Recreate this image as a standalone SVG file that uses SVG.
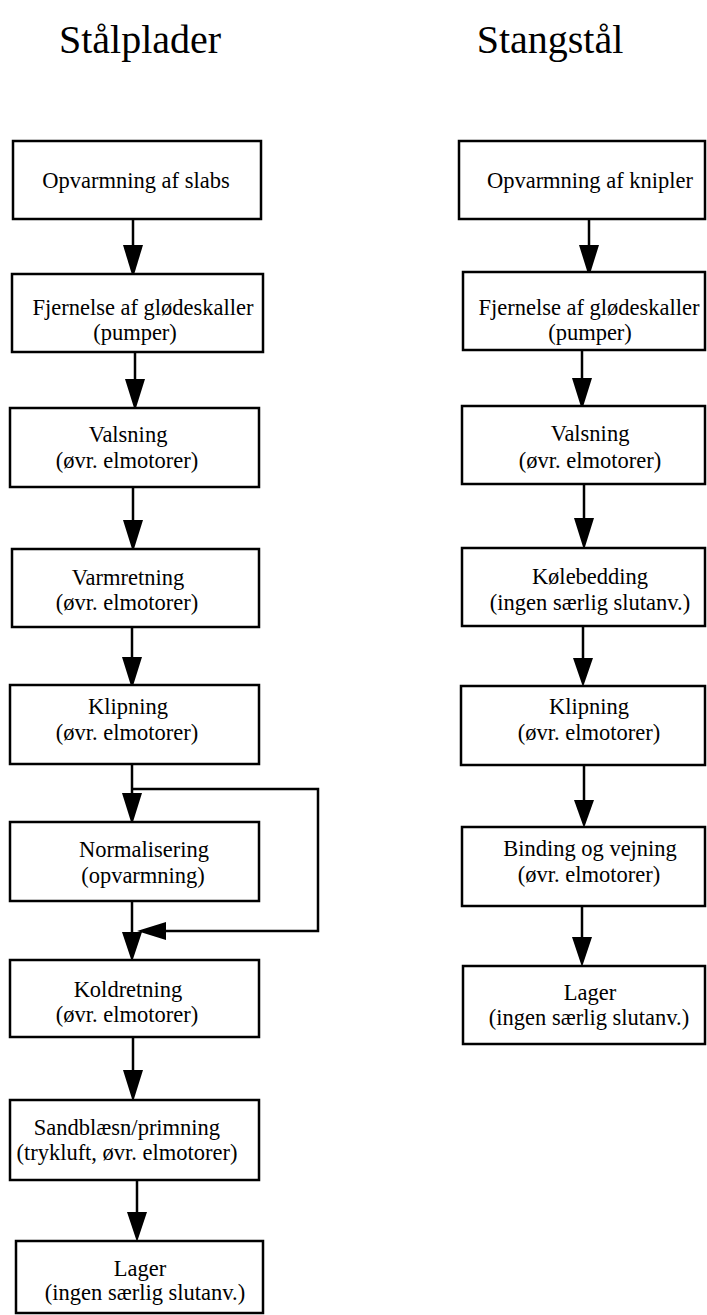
<svg xmlns="http://www.w3.org/2000/svg" width="707" height="1315" viewBox="0 0 707 1315">
  <style>
    .box { fill: #ffffff; stroke: #000000; stroke-width: 2.5; }
    .lbl { font-family: "Liberation Serif", "Times New Roman", serif; font-size: 22.5px; fill: #000000; text-anchor: middle; }
    .title { font-family: "Liberation Serif", "Times New Roman", serif; font-size: 40px; fill: #000000; text-anchor: middle; }
    .wire { fill: none; stroke: #000000; stroke-width: 2.5; }
    .head { fill: #000000; stroke: none; }
  </style>
  <rect width="707" height="1315" fill="#ffffff"/>

  <!-- column headings -->
  <text class="title" x="140" y="53">Stålplader</text>
  <text class="title" x="550" y="53">Stangstål</text>

  <!-- connectors -->
  <g id="connectors">
    <!-- left column -->
    <line class="wire" x1="133" y1="219" x2="133" y2="250"/>
    <polygon class="head" points="123,245 143,245 133,278"/>
    <line class="wire" x1="135" y1="352" x2="135" y2="385"/>
    <polygon class="head" points="125,379 145,379 135,411"/>
    <line class="wire" x1="133" y1="487" x2="133" y2="525"/>
    <polygon class="head" points="123,520 143,520 133,552"/>
    <line class="wire" x1="132" y1="627" x2="132" y2="662"/>
    <polygon class="head" points="122,657 142,657 132,689"/>
    <line class="wire" x1="132" y1="764" x2="132" y2="798"/>
    <polygon class="head" points="122,793 142,793 132,825"/>
    <line class="wire" x1="132" y1="901" x2="132" y2="937"/>
    <polygon class="head" points="122,932 142,932 132,962"/>
    <line class="wire" x1="133" y1="1037" x2="133" y2="1075"/>
    <polygon class="head" points="123,1070 143,1070 133,1102"/>
    <line class="wire" x1="137" y1="1180" x2="137" y2="1217"/>
    <polygon class="head" points="127,1212 147,1212 137,1242"/>
    <!-- bypass around Normalisering -->
    <polyline class="wire" points="132,789 318,789 318,931 160,931"/>
    <polygon class="head" points="166,922 166,940 137,931"/>

    <!-- right column -->
    <line class="wire" x1="589" y1="219" x2="589" y2="250"/>
    <polygon class="head" points="579,245 599,245 589,277"/>
    <line class="wire" x1="582" y1="350" x2="582" y2="383"/>
    <polygon class="head" points="572,378 592,378 582,410"/>
    <line class="wire" x1="584" y1="484" x2="584" y2="523"/>
    <polygon class="head" points="574,518 594,518 584,550"/>
    <line class="wire" x1="583" y1="626" x2="583" y2="663"/>
    <polygon class="head" points="573,658 593,658 583,687"/>
    <line class="wire" x1="584" y1="765" x2="584" y2="805"/>
    <polygon class="head" points="574,800 594,800 584,828"/>
    <line class="wire" x1="582" y1="906" x2="582" y2="942"/>
    <polygon class="head" points="572,937 592,937 582,967"/>
  </g>

  <!-- Stålplader process -->
  <g id="slabs-heating">
    <rect class="box" x="13" y="141" width="248" height="78"/>
    <text class="lbl" x="136" y="188">Opvarmning af slabs</text>
  </g>
  <g id="plate-descaling">
    <rect class="box" x="12" y="274" width="251" height="78"/>
    <text class="lbl" x="143" y="315">Fjernelse af glødeskaller</text>
    <text class="lbl" x="135" y="340">(pumper)</text>
  </g>
  <g id="plate-rolling">
    <rect class="box" x="10" y="408" width="249" height="79"/>
    <text class="lbl" x="128" y="442">Valsning</text>
    <text class="lbl" x="127" y="468">(øvr. elmotorer)</text>
  </g>
  <g id="hot-levelling">
    <rect class="box" x="12" y="549" width="247" height="78"/>
    <text class="lbl" x="128" y="585">Varmretning</text>
    <text class="lbl" x="127" y="610">(øvr. elmotorer)</text>
  </g>
  <g id="plate-shearing">
    <rect class="box" x="10" y="685" width="249" height="79"/>
    <text class="lbl" x="128" y="714">Klipning</text>
    <text class="lbl" x="127" y="740">(øvr. elmotorer)</text>
  </g>
  <g id="normalising">
    <rect class="box" x="10" y="822" width="249" height="79"/>
    <text class="lbl" x="144" y="857">Normalisering</text>
    <text class="lbl" x="143" y="883">(opvarmning)</text>
  </g>
  <g id="cold-levelling">
    <rect class="box" x="10" y="960" width="249" height="77"/>
    <text class="lbl" x="128" y="997">Koldretning</text>
    <text class="lbl" x="127" y="1022">(øvr. elmotorer)</text>
  </g>
  <g id="blasting-priming">
    <rect class="box" x="10" y="1100" width="249" height="80"/>
    <text class="lbl" x="127" y="1135">Sandblæsn/primning</text>
    <text class="lbl" x="127" y="1160">(trykluft, øvr. elmotorer)</text>
  </g>
  <g id="plate-storage">
    <rect class="box" x="16" y="1241" width="247" height="72"/>
    <text class="lbl" x="140" y="1276">Lager</text>
    <text class="lbl" x="145" y="1300">(ingen særlig slutanv.)</text>
  </g>

  <!-- Stangstål process -->
  <g id="billet-heating">
    <rect class="box" x="459" y="141" width="246" height="78"/>
    <text class="lbl" x="590" y="188">Opvarmning af knipler</text>
  </g>
  <g id="bar-descaling">
    <rect class="box" x="463" y="272" width="242" height="78"/>
    <text class="lbl" x="589" y="315">Fjernelse af glødeskaller</text>
    <text class="lbl" x="590" y="340">(pumper)</text>
  </g>
  <g id="bar-rolling">
    <rect class="box" x="462" y="406" width="243" height="78"/>
    <text class="lbl" x="590" y="441">Valsning</text>
    <text class="lbl" x="590" y="468">(øvr. elmotorer)</text>
  </g>
  <g id="cooling-bed">
    <rect class="box" x="462" y="548" width="243" height="78"/>
    <text class="lbl" x="590" y="584">Kølebedding</text>
    <text class="lbl" x="590" y="610">(ingen særlig slutanv.)</text>
  </g>
  <g id="bar-shearing">
    <rect class="box" x="461" y="686" width="244" height="79"/>
    <text class="lbl" x="589" y="714">Klipning</text>
    <text class="lbl" x="589" y="740">(øvr. elmotorer)</text>
  </g>
  <g id="bundling-weighing">
    <rect class="box" x="462" y="827" width="243" height="79"/>
    <text class="lbl" x="590" y="856">Binding og vejning</text>
    <text class="lbl" x="589" y="882">(øvr. elmotorer)</text>
  </g>
  <g id="bar-storage">
    <rect class="box" x="463" y="966" width="242" height="78"/>
    <text class="lbl" x="590" y="1000">Lager</text>
    <text class="lbl" x="589" y="1025">(ingen særlig slutanv.)</text>
  </g>
</svg>
